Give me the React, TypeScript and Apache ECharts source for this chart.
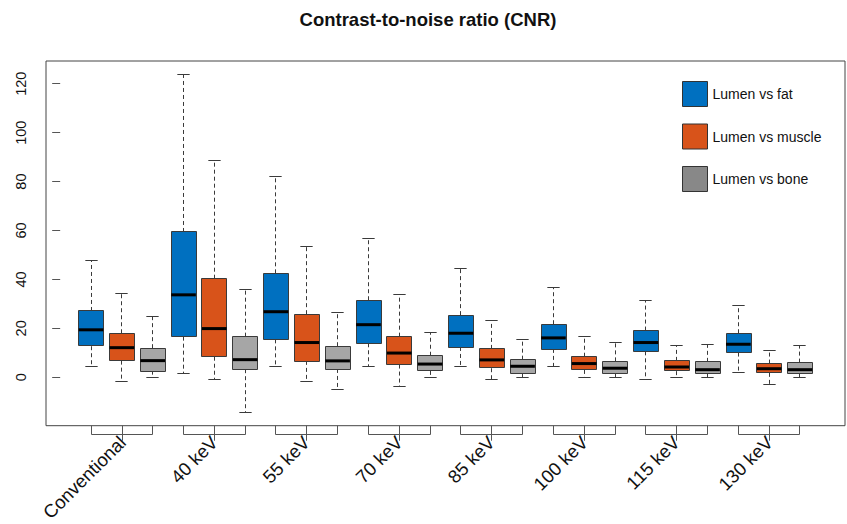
import React, { useEffect, useRef } from "react";
import * as echarts from "echarts";

// Categories (groups along the x axis)
const categories = ["Conventional", "40 keV", "55 keV", "70 keV", "85 keV", "100 keV", "115 keV", "130 keV"];
const seriesNames = ["Lumen vs fat", "Lumen vs muscle", "Lumen vs bone"];

// Each row: [lower whisker, Q1, median, Q3, upper whisker]
const fat = [
  [4.2, 12.7, 19.4, 27.1, 47.7],
  [1.4, 16.6, 33.7, 59.4, 123.8],
  [4.2, 15.5, 26.8, 42.5, 82.2],
  [4.2, 13.9, 21.5, 31.5, 56.9],
  [4.2, 12.4, 18.0, 25.4, 44.3],
  [4.2, 11.6, 16.1, 21.7, 36.9],
  [-1.0, 10.6, 14.2, 19.1, 31.3],
  [1.9, 10.1, 13.5, 18.0, 29.3],
];
const muscle = [
  [-1.8, 6.8, 12.1, 18.0, 34.1],
  [-1.1, 8.4, 19.9, 40.3, 88.8],
  [-1.8, 6.7, 14.2, 25.8, 53.4],
  [-3.8, 5.2, 9.9, 16.6, 33.9],
  [-1.1, 3.7, 7.1, 11.6, 23.2],
  [-0.1, 3.0, 5.6, 8.4, 16.6],
  [0.0, 2.5, 4.2, 6.7, 12.9],
  [-3.0, 1.8, 3.5, 5.6, 11.0],
];
const bone = [
  [0.0, 2.7, 6.8, 11.9, 24.9],
  [-14.3, 3.3, 7.2, 16.6, 35.9],
  [-5.1, 3.4, 6.7, 12.7, 26.3],
  [-0.1, 2.6, 5.4, 8.8, 18.4],
  [-0.1, 1.6, 4.5, 7.2, 15.5],
  [-0.1, 1.4, 3.7, 6.5, 14.2],
  [0.0, 1.5, 3.1, 6.3, 13.5],
  [0.0, 1.5, 3.1, 6.0, 12.8],
];
const yTicks = [0, 20, 40, 60, 80, 100, 120];

const FONT = "Liberation Sans, Arial, Helvetica, sans-serif";
const boxColors = ["#0070C0", "#D8531A", "#A6A6A6"];
const legendColors = ["#0070C0", "#D8531A", "#888888"];
const LINE = "#3a3a3a";

const crisp = (v: number) => Math.round(v - 0.5) + 0.5;

function boxRender(params: any, api: any) {
  const pos = api.value(0);
  const [x] = api.coord([pos, 0]);
  const yLow = api.coord([pos, api.value(1)])[1];
  const yQ1 = api.coord([pos, api.value(2)])[1];
  const yMed = api.coord([pos, api.value(3)])[1];
  const yQ3 = api.coord([pos, api.value(4)])[1];
  const yHigh = api.coord([pos, api.value(5)])[1];
  const halfW = api.size([0.8, 0])[0] / 2;
  const capHalf = api.size([0.4, 0])[0] / 2;
  const cx = crisp(x);
  const color = api.visual("color");
  const dash = { stroke: LINE, lineWidth: 1, lineDash: [4, 3] };
  const solid = { stroke: LINE, lineWidth: 1 };
  return {
    type: "group",
    children: [
      { type: "line", shape: { x1: cx, y1: yQ3, x2: cx, y2: yHigh }, style: dash },
      { type: "line", shape: { x1: cx, y1: yQ1, x2: cx, y2: yLow }, style: dash },
      { type: "line", shape: { x1: cx - capHalf, y1: crisp(yHigh), x2: cx + capHalf, y2: crisp(yHigh) }, style: solid },
      { type: "line", shape: { x1: cx - capHalf, y1: crisp(yLow), x2: cx + capHalf, y2: crisp(yLow) }, style: solid },
      {
        type: "rect",
        shape: { x: crisp(x - halfW), y: crisp(yQ3), width: Math.round(2 * halfW), height: Math.round(yQ1 - yQ3) },
        style: { fill: color, stroke: LINE, lineWidth: 1 },
      },
      {
        type: "line",
        shape: { x1: x - halfW, y1: yMed, x2: x + halfW, y2: yMed },
        style: { stroke: "#000", lineWidth: 3 },
      },
    ],
  };
}

function groupRender(params: any, api: any) {
  const cs = params.coordSys;
  const bottom = cs.y + cs.height;
  const x1 = crisp(api.coord([api.value(0), 0])[0]);
  const x2 = crisp(api.coord([api.value(1), 0])[0]);
  const xm = crisp((x1 + x2) / 2);
  const yb = crisp(bottom + 9);
  const st = { stroke: "#555", lineWidth: 1, fill: null };
  return {
    type: "group",
    children: [
      { type: "polyline", shape: { points: [[x1, bottom], [x1, yb], [x2, yb], [x2, bottom]] }, style: st },
      { type: "line", shape: { x1: xm, y1: bottom, x2: xm, y2: bottom + 15 }, style: st },
      {
        type: "text",
        x: xm,
        y: bottom + 13.5,
        rotation: Math.PI / 4,
        style: {
          text: categories[params.dataIndex],
          fill: "#111",
          fontSize: 18.5,
          fontFamily: FONT,
          align: "right",
          verticalAlign: "middle",
        },
      },
    ],
  };
}

export default function App() {
  const ref = useRef<HTMLDivElement>(null);
  useEffect(() => {
    document.body.style.margin = "0";
    if (!ref.current) return;
    const chart = echarts.init(ref.current, null, { renderer: "svg" });
    const groups = [fat, muscle, bone];
    const boxSeries = groups.map((vals, k) => ({
      type: "custom",
      name: seriesNames[k],
      renderItem: boxRender,
      clip: false,
      itemStyle: { color: boxColors[k] },
      encode: { x: 0, y: [1, 2, 3, 4, 5] },
      data: vals.map((v, g) => [g * 3 + k + 1, ...v]),
      z: 3,
    }));
    const option: any = {
      animation: false,
      backgroundColor: "#fff",
      textStyle: { fontFamily: FONT },
      graphic: [
        {
          type: "text",
          x: 428,
          y: 19.5,
          style: {
            text: "Contrast-to-noise ratio (CNR)",
            fill: "#111",
            fontSize: 18.5,
            fontWeight: "bold",
            fontFamily: FONT,
            align: "center",
            verticalAlign: "middle",
          },
        },
      ],
      grid: {
        left: 46,
        right: 2,
        top: 61,
        bottom: 98.3,
        show: true,
        borderColor: "#444",
        borderWidth: 1,
        backgroundColor: "transparent",
      },
      legend: {
        orient: "vertical",
        left: 682,
        top: 81,
        padding: 0,
        itemWidth: 25,
        itemHeight: 25,
        itemGap: 16.5,
        icon: "rect",
        itemStyle: { borderColor: "#333", borderWidth: 1 },
        textStyle: { fontSize: 14, color: "#111", fontFamily: FONT },
        data: seriesNames.map((n, k) => ({ name: n, itemStyle: { color: legendColors[k] } })),
      },
      xAxis: {
        type: "value",
        min: -0.46,
        max: 25.46,
        axisLine: { show: false },
        axisTick: { show: false },
        axisLabel: { show: false },
        splitLine: { show: false },
      },
      yAxis: {
        type: "value",
        min: -19.8,
        max: 129.3,
        axisLine: { show: false },
        axisTick: { show: true, customValues: yTicks, length: 8, lineStyle: { color: "#555" } },
        axisLabel: {
          customValues: yTicks,
          rotate: 90,
          fontSize: 14.5,
          color: "#111",
          margin: 18,
          fontFamily: FONT,
        },
        splitLine: { show: false },
      },
      series: [
        ...boxSeries,
        {
          type: "custom",
          name: "groups",
          renderItem: groupRender,
          clip: false,
          silent: true,
          encode: { x: [0, 1] },
          data: categories.map((_, g) => [g * 3 + 1, g * 3 + 3]),
        },
      ],
    };
    chart.setOption(option);
    return () => chart.dispose();
  }, []);
  return <div ref={ref} style={{ width: 847, height: 524 }} />;
}
